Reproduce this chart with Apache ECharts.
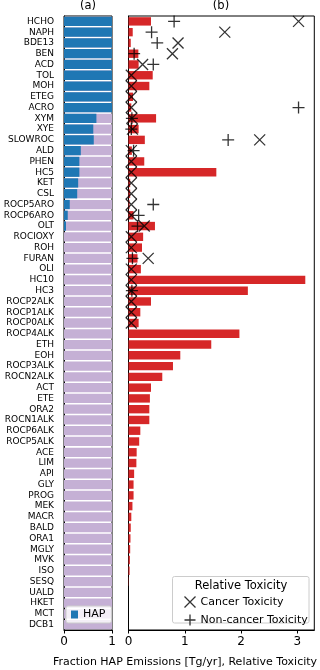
<!DOCTYPE html>
<html>
<head>
<meta charset="utf-8">
<script src="https://cdn.jsdelivr.net/npm/echarts@6.0.0/dist/echarts.min.js"></script>
<style>
    html, body { margin: 0; padding: 0; background: #fff; }
    #chart { width: 320px; height: 670px; }
</style>
</head>
<body>
<div id="chart"></div>
<script>
    // species, top to bottom
    const categories = ['HCHO', 'NAPH', 'BDE13', 'BEN', 'ACD', 'TOL', 'MOH', 'ETEG', 'ACRO', 'XYM',
        'XYE', 'SLOWROC', 'ALD', 'PHEN', 'HC5', 'KET', 'CSL', 'ROCP5ARO', 'ROCP6ARO', 'OLT',
        'ROCIOXY', 'ROH', 'FURAN', 'OLI', 'HC10', 'HC3', 'ROCP2ALK', 'ROCP1ALK', 'ROCP0ALK', 'ROCP4ALK',
        'ETH', 'EOH', 'ROCP3ALK', 'ROCN2ALK', 'ACT', 'ETE', 'ORA2', 'ROCN1ALK', 'ROCP6ALK', 'ROCP5ALK',
        'ACE', 'LIM', 'API', 'GLY', 'PROG', 'MEK', 'MACR', 'BALD', 'ORA1', 'MGLY',
        'MVK', 'ISO', 'SESQ', 'UALD', 'HKET', 'MCT', 'DCB1']

    // (a) fraction of emissions that is HAP
    const hapFraction = [1, 1, 1, 1, 1, 1, 1, 1, 1, 0.675,
        0.61, 0.62, 0.35, 0.32, 0.32, 0.295, 0.275, 0.12, 0.078, 0.042,
        0, 0, 0, 0, 0, 0, 0, 0, 0, 0,
        0, 0, 0, 0, 0, 0, 0, 0, 0, 0,
        0, 0, 0, 0, 0, 0, 0, 0, 0, 0,
        0, 0, 0, 0, 0, 0, 0]

    // (b) emissions, Tg/yr
    const emissions = [0.40, 0.075, 0.04, 0.175, 0.18, 0.43, 0.37, 0.08, 0.05, 0.49,
        0.18, 0.29, 0.06, 0.28, 1.56, 0.03, 0.03, 0.02, 0.09, 0.47,
        0.26, 0.24, 0.16, 0.22, 3.14, 2.12, 0.40, 0.21, 0.18, 1.97,
        1.47, 0.92, 0.79, 0.60, 0.40, 0.38, 0.37, 0.37, 0.21, 0.19,
        0.145, 0.14, 0.10, 0.09, 0.09, 0.07, 0.05, 0.04, 0.035, 0.03,
        0.025, 0.02, 0.005, 0, 0, 0, 0]

    // relative toxicity, null = no value
    const cancerTox = [3.02, 1.71, 0.88, 0.78, 0.25, 0.05, 0.05, 0.05, 0.05, 0.06,
        0.07, 2.33, 0.05, 0.05, 0.05, 0.05, 0.05, 0.05, 0.05, 0.28,
        0.05, 0.05, 0.35, 0.05, 0.05, 0.05, 0.05, 0.05, 0.05, null,
        null, null, null, null, null, null, null, null, null, null,
        null, null, null, null, null, null, null, null, null, null,
        null, null, null, null, null, null, null]

    const nonCancerTox = [0.81, 0.41, 0.51, 0.10, 0.44, null, null, null, 3.02, 0.06,
        0.05, 1.77, 0.09, null, null, null, null, 0.44, 0.18, 0.16,
        null, null, 0.07, null, null, 0.06, null, null, null, null,
        null, null, null, null, null, null, null, null, null, null,
        null, null, null, null, null, null, null, null, null, null,
        null, null, null, null, null, null, null]

    const xTicksB = [0, 1, 2, 3]

    const FONT = 'DejaVu Sans'
    const CROSS_X = 'path://M0,0L10,10M10,0L0,10'
    const CROSS_PLUS = 'path://M5,0L5,10M0,5L10,5'

    function toPoints(list){
        let pts = []
        list.map((v, i) => {
            if(v !== null) pts.push([v, categories[i]])
        })
        return pts
    }

    function valueAxis(gridIndex, max){
        return {
            gridIndex,
            type: 'value',
            min: 0,
            max,
            interval: 1,
            splitLine: { show: false },
            axisLine: { show: true, lineStyle: { color: '#000', width: 1 } },
            axisTick: { show: true, length: 3.5, lineStyle: { color: '#000' } },
            axisLabel: { fontSize: 12, color: '#000', margin: 6, fontFamily: FONT }
        }
    }

    let chart = echarts.init(document.getElementById('chart'))
    let axisB = valueAxis(1, 3.3)
    axisB.axisTick.customValues = xTicksB
    axisB.axisLabel.customValues = xTicksB

    let option = {
        animation: false,
        textStyle: { fontFamily: FONT },
        title: [
            { text: '(a)', left: 88, top: 0, textAlign: 'center', padding: 0,
              textStyle: { fontSize: 11.5, fontWeight: 'normal', color: '#000', fontFamily: FONT } },
            { text: '(b)', left: 221, top: 0, textAlign: 'center', padding: 0,
              textStyle: { fontSize: 11.5, fontWeight: 'normal', color: '#000', fontFamily: FONT } }
        ],
        grid: [
            { left: 64, width: 48, top: 16, height: 614, show: true, borderColor: '#000', borderWidth: 1 },
            { left: 128.5, right: 5.7, top: 16, height: 614, show: true, borderColor: '#000', borderWidth: 1 }
        ],
        xAxis: [valueAxis(0, 1), axisB],
        yAxis: [
            {
                gridIndex: 0,
                type: 'category',
                data: categories,
                inverse: true,
                axisLine: { lineStyle: { color: '#000' } },
                axisTick: { alignWithLabel: true, interval: 0, length: 4, lineStyle: { color: '#000' } },
                axisLabel: { interval: 0, fontSize: 9, color: '#000', margin: 10, fontFamily: FONT }
            },
            {
                gridIndex: 1,
                type: 'category',
                data: categories,
                inverse: true,
                axisLine: { lineStyle: { color: '#000' } },
                axisTick: { show: false },
                axisLabel: { show: false }
            }
        ],
        legend: [
            {
                data: ['HAP'],
                left: 66,
                top: 606,
                icon: 'rect',
                itemWidth: 7,
                itemHeight: 8,
                padding: [2, 6, 2, 5],
                backgroundColor: 'rgba(255,255,255,0.8)',
                borderColor: '#cccccc',
                borderWidth: 1,
                borderRadius: 2,
                textStyle: { fontSize: 11, color: '#000', fontFamily: FONT, lineHeight: 13 }
            },
            {
                data: ['Cancer Toxicity', 'Non-cancer Toxicity'],
                orient: 'vertical',
                left: 182,
                top: 594,
                padding: 0,
                itemGap: 2,
                itemWidth: 11,
                itemHeight: 11,
                itemStyle: { color: 'none', borderColor: '#000', borderWidth: 1.3 },
                textStyle: { fontSize: 11, color: '#000', fontFamily: FONT, lineHeight: 12 }
            }
        ],
        graphic: [
            {
                type: 'rect',
                shape: { x: 172.5, y: 576.5, width: 136.5, height: 46.5, r: 2 },
                style: { fill: 'rgba(255,255,255,0.8)', stroke: '#cccccc', lineWidth: 1 },
                z: 3
            },
            {
                type: 'text',
                x: 241,
                y: 586,
                z: 4,
                style: { text: 'Relative Toxicity', fontSize: 11.5, fill: '#000', align: 'center',
                         verticalAlign: 'middle', fontFamily: FONT }
            },
            {
                type: 'text',
                x: 185,
                y: 662,
                style: { text: 'Fraction HAP Emissions [Tg/yr], Relative Toxicity', fontSize: 11,
                         fill: '#000', align: 'center', verticalAlign: 'middle', fontFamily: FONT }
            }
        ],
        series: [
            {
                name: 'HAP',
                type: 'bar',
                xAxisIndex: 0,
                yAxisIndex: 0,
                barWidth: '86%',
                data: hapFraction,
                itemStyle: { color: '#1f77b4' },
                showBackground: true,
                backgroundStyle: { color: '#c5b0d5' }
            },
            {
                name: 'Emissions',
                type: 'bar',
                xAxisIndex: 1,
                yAxisIndex: 1,
                barWidth: '78%',
                data: emissions,
                itemStyle: { color: '#d62728' }
            },
            {
                name: 'Cancer Toxicity',
                type: 'scatter',
                xAxisIndex: 1,
                yAxisIndex: 1,
                symbol: CROSS_X,
                symbolSize: 11,
                itemStyle: { color: 'none', borderColor: '#000', borderWidth: 1.3 },
                data: toPoints(cancerTox)
            },
            {
                name: 'Non-cancer Toxicity',
                type: 'scatter',
                xAxisIndex: 1,
                yAxisIndex: 1,
                symbol: CROSS_PLUS,
                symbolSize: 12,
                itemStyle: { color: 'none', borderColor: '#000', borderWidth: 1.3 },
                data: toPoints(nonCancerTox)
            }
        ]
    }
    chart.setOption(option)
</script>
</body>
</html>
